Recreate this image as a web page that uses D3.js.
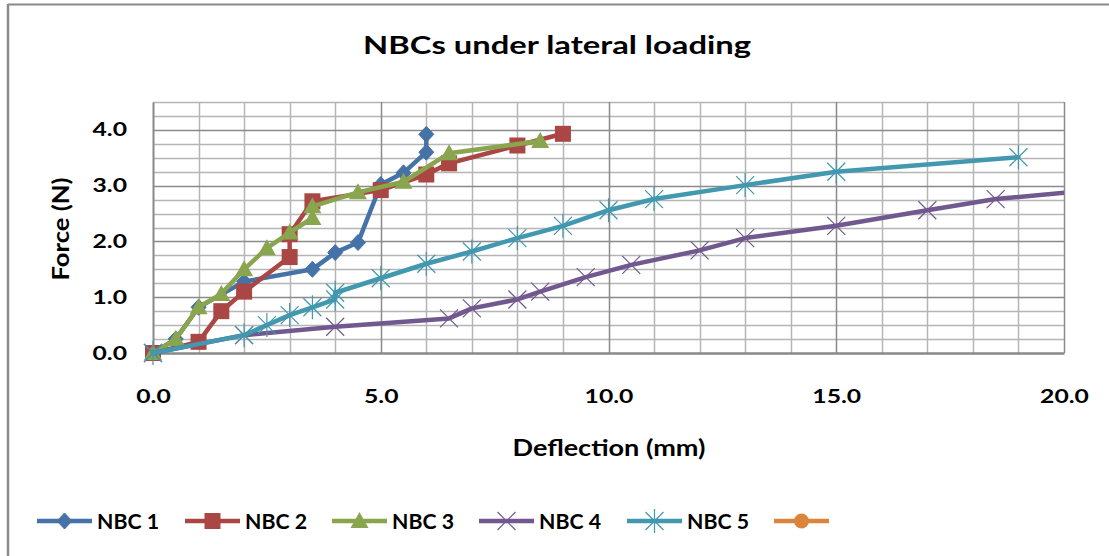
<!DOCTYPE html>
<html>
<head>
<meta charset="utf-8">
<script src="https://cdn.jsdelivr.net/npm/d3@7"></script>
<style>
  html, body { margin: 0; padding: 0; background: #fff; }
  svg { display: block; }
  text { font-family: Lato, "Open Sans", "DejaVu Sans", sans-serif; font-weight: bold; fill: #000; }
</style>
</head>
<body>
<svg id="chart" width="1109" height="556"></svg>
<script>
// ---------------- data ----------------
const titleText = "NBCs under lateral loading";
const xAxisTitle = "Deflection (mm)";
const yAxisTitle = "Force (N)";
const seriesNames = ["NBC 1", "NBC 2", "NBC 3", "NBC 4", "NBC 5", ""];
const seriesColors = ["#4572A7", "#AA4643", "#89A54E", "#71588F", "#4198AF", "#DB843D"];
const seriesMarkers = ["diamond", "square", "triangle", "x", "asterisk", "circle"];

const nbc1X = [0, 0.5, 1.0, 2.0, 3.5, 4.0, 4.5, 5.0, 5.5, 6.0, 6.0];
const nbc1Y = [0, 0.25, 0.82, 1.28, 1.5, 1.8, 1.98, 3.02, 3.23, 3.6, 3.92];

const nbc2X = [0, 1.0, 1.5, 2.0, 3.0, 3.0, 3.5, 5.0, 6.0, 6.5, 8.0, 9.0];
const nbc2Y = [0, 0.2, 0.75, 1.1, 1.72, 2.13, 2.72, 2.92, 3.2, 3.4, 3.72, 3.93];

const nbc3X = [0, 0.5, 1.0, 1.5, 2.0, 2.5, 3.0, 3.5, 3.5, 4.5, 5.5, 6.5, 8.5];
const nbc3Y = [0, 0.25, 0.82, 1.06, 1.5, 1.88, 2.16, 2.42, 2.63, 2.88, 3.07, 3.58, 3.8];

const nbc4X = [0, 2.0, 4.0, 6.5, 7.0, 8.0, 8.5, 9.5, 10.5, 12.0, 13.0, 15.0, 17.0, 18.5, 21.0];
const nbc4Y = [0, 0.32, 0.47, 0.62, 0.8, 0.96, 1.1, 1.36, 1.58, 1.84, 2.06, 2.28, 2.56, 2.76, 2.95];

const nbc5X = [0, 2.0, 2.5, 3.0, 3.5, 4.0, 4.0, 5.0, 6.0, 7.0, 8.0, 9.0, 10.0, 11.0, 13.0, 15.0, 19.0];
const nbc5Y = [0, 0.32, 0.5, 0.68, 0.82, 0.96, 1.08, 1.34, 1.6, 1.82, 2.06, 2.28, 2.56, 2.76, 3.01, 3.25, 3.51];

const nbc6X = [];
const nbc6Y = [];

const xTicks = [0, 5, 10, 15, 20];
const yTicks = [0, 1, 2, 3, 4];
const xDomain = [0, 20];
const yDomain = [0, 4.5];
const xMinorStep = 1;
const yMinorStep = 0.25;

// ---------------- layout ----------------
const W = 1109, H = 556;
const plot = { left: 153, right: 1064, top: 102, bottom: 353 };
const svg = d3.select("#chart");

const x = d3.scaleLinear().domain(xDomain).range([plot.left, plot.right]);
const y = d3.scaleLinear().domain(yDomain).range([plot.bottom, plot.top]);

const STRETCH = 1.3;
function stretch(sel, target) {
  sel.each(function () {
    const n = this.getComputedTextLength();
    const t = target != null ? target : n * STRETCH;
    d3.select(this).attr("textLength", t).attr("lengthAdjust", "spacingAndGlyphs");
  });
}

// chart border (top & left visible)
svg.append("line").attr("x1", 8).attr("x2", W).attr("y1", 4.5).attr("y2", 4.5)
  .attr("stroke", "#8a8a8a").attr("stroke-width", 2);
svg.append("line").attr("x1", 8).attr("x2", 8).attr("y1", 4).attr("y2", H)
  .attr("stroke", "#8a8a8a").attr("stroke-width", 2.5);

// title
const title = svg.append("text").attr("x", 557).attr("y", 54)
  .attr("text-anchor", "middle").style("font-size", "25px").text(titleText);
stretch(title, 388);

// gridlines
const grid = svg.append("g");
const yMinor = d3.range(0, yDomain[1] + 1e-9, yMinorStep);
const xMinor = d3.range(0, xDomain[1] + 1e-9, xMinorStep);
const isMajorY = v => Math.abs(v - Math.round(v)) < 1e-9;
const isMajorX = v => Math.abs(v / 5 - Math.round(v / 5)) < 1e-9;

grid.selectAll("line.hy").data(yMinor.filter(v => !isMajorY(v))).join("line")
  .attr("x1", plot.left).attr("x2", plot.right)
  .attr("y1", d => Math.round(y(d)) + 0.5).attr("y2", d => Math.round(y(d)) + 0.5)
  .attr("stroke", "#b5b5b5").attr("stroke-width", 1.5);
grid.selectAll("line.vx").data(xMinor.filter(v => !isMajorX(v))).join("line")
  .attr("y1", plot.top).attr("y2", plot.bottom)
  .attr("x1", d => Math.round(x(d)) + 0.5).attr("x2", d => Math.round(x(d)) + 0.5)
  .attr("stroke", "#b5b5b5").attr("stroke-width", 1.5);
grid.selectAll("line.my").data(yMinor.filter(v => isMajorY(v) && v > 0)).join("line")
  .attr("x1", plot.left).attr("x2", plot.right)
  .attr("y1", d => Math.round(y(d)) + 0.5).attr("y2", d => Math.round(y(d)) + 0.5)
  .attr("stroke", "#8a8a8a").attr("stroke-width", 1.5);
grid.selectAll("line.mx").data(xMinor.filter(v => isMajorX(v) && v > 0)).join("line")
  .attr("y1", plot.top).attr("y2", plot.bottom)
  .attr("x1", d => Math.round(x(d)) + 0.5).attr("x2", d => Math.round(x(d)) + 0.5)
  .attr("stroke", "#8a8a8a").attr("stroke-width", 1.5);

// axes
const xAxis = svg.append("g").attr("transform", `translate(0,${plot.bottom})`)
  .call(d3.axisBottom(x).tickValues(xTicks).tickFormat(d3.format(".1f")).tickSize(0).tickPadding(37));
xAxis.select(".domain").attr("stroke", "#888").attr("stroke-width", 2.5);
xAxis.selectAll("text").style("font-size", "19px").attr("fill", "#000").call(stretch);

const yAxis = svg.append("g").attr("transform", `translate(${plot.left},0)`)
  .call(d3.axisLeft(y).tickValues(yTicks).tickFormat(d3.format(".1f")).tickSize(0).tickPadding(26));
yAxis.select(".domain").attr("stroke", "#888").attr("stroke-width", 2);
yAxis.selectAll("text").style("font-size", "19px").attr("fill", "#000").call(stretch);

// axis titles
const xt = svg.append("text").attr("x", 609).attr("y", 456).attr("text-anchor", "middle")
  .style("font-size", "22px").text(xAxisTitle);
stretch(xt, 193);
const yt = svg.append("text").attr("transform", "translate(69,229) rotate(-90)")
  .attr("text-anchor", "middle").style("font-size", "22px").text(yAxisTitle);
stretch(yt, 103);

// markers
function drawMarker(g, type, color) {
  if (type === "diamond") {
    g.append("path").attr("d", "M0,-8L7.5,0L0,8L-7.5,0Z").attr("fill", color).attr("stroke", color).attr("stroke-width", 1);
  } else if (type === "square") {
    g.append("rect").attr("x", -8).attr("y", -8).attr("width", 16).attr("height", 16).attr("fill", color);
  } else if (type === "triangle") {
    g.append("path").attr("d", "M0,-9L9,7L-9,7Z").attr("fill", color);
  } else if (type === "x") {
    g.append("path").attr("d", "M-9,-9L9,9M-9,9L9,-9").attr("stroke", color).attr("stroke-width", 1.2).attr("fill", "none");
  } else if (type === "asterisk") {
    g.append("path").attr("d", "M-9,-9L9,9M-9,9L9,-9M0,-12L0,12").attr("stroke", color).attr("stroke-width", 1.2).attr("fill", "none");
  } else if (type === "circle") {
    g.append("circle").attr("r", 7.5).attr("fill", color);
  }
}

// series
const seriesX = [nbc1X, nbc2X, nbc3X, nbc4X, nbc5X, nbc6X];
const seriesY = [nbc1Y, nbc2Y, nbc3Y, nbc4Y, nbc5Y, nbc6Y];
const series = seriesNames.map((name, i) => ({
  name, color: seriesColors[i], marker: seriesMarkers[i],
  values: seriesX[i].map((xv, j) => ({ x: xv, y: seriesY[i][j] }))
}));

svg.append("clipPath").attr("id", "clip").append("rect")
  .attr("x", plot.left - 12).attr("y", plot.top - 12)
  .attr("width", plot.right - plot.left + 12).attr("height", plot.bottom - plot.top + 30);

const lineGen = d3.line().x(d => x(d.x)).y(d => y(d.y)).curve(d3.curveLinear);
const plotG = svg.append("g").attr("clip-path", "url(#clip)");

series.forEach(s => {
  if (!s.values.length) return;
  const g = plotG.append("g");
  g.append("path").datum(s.values).attr("d", lineGen)
    .attr("fill", "none").attr("stroke", s.color).attr("stroke-width", 4.5)
    .attr("stroke-linejoin", "round").attr("stroke-linecap", "round");
  g.selectAll("g.m").data(s.values.filter(d => d.x <= xDomain[1])).join("g")
    .attr("transform", d => `translate(${x(d.x)},${y(d.y)})`)
    .each(function () { drawMarker(d3.select(this), s.marker, s.color); });
});

// legend
const legendY = 521;
const legendStarts = [37, 185, 332, 479, 627, 774];
series.forEach((s, i) => {
  const g = svg.append("g").attr("transform", `translate(${legendStarts[i]},${legendY})`);
  g.append("line").attr("x1", 0).attr("x2", 55).attr("y1", 0).attr("y2", 0)
    .attr("stroke", s.color).attr("stroke-width", 4.5);
  const mg = g.append("g").attr("transform", "translate(27.5,0)");
  drawMarker(mg, s.marker, s.color);
  if (s.name) {
    const t = g.append("text").attr("x", 60).attr("y", 7.5).style("font-size", "21px").text(s.name);
    stretch(t, 62);
  }
});
</script>
</body>
</html>
